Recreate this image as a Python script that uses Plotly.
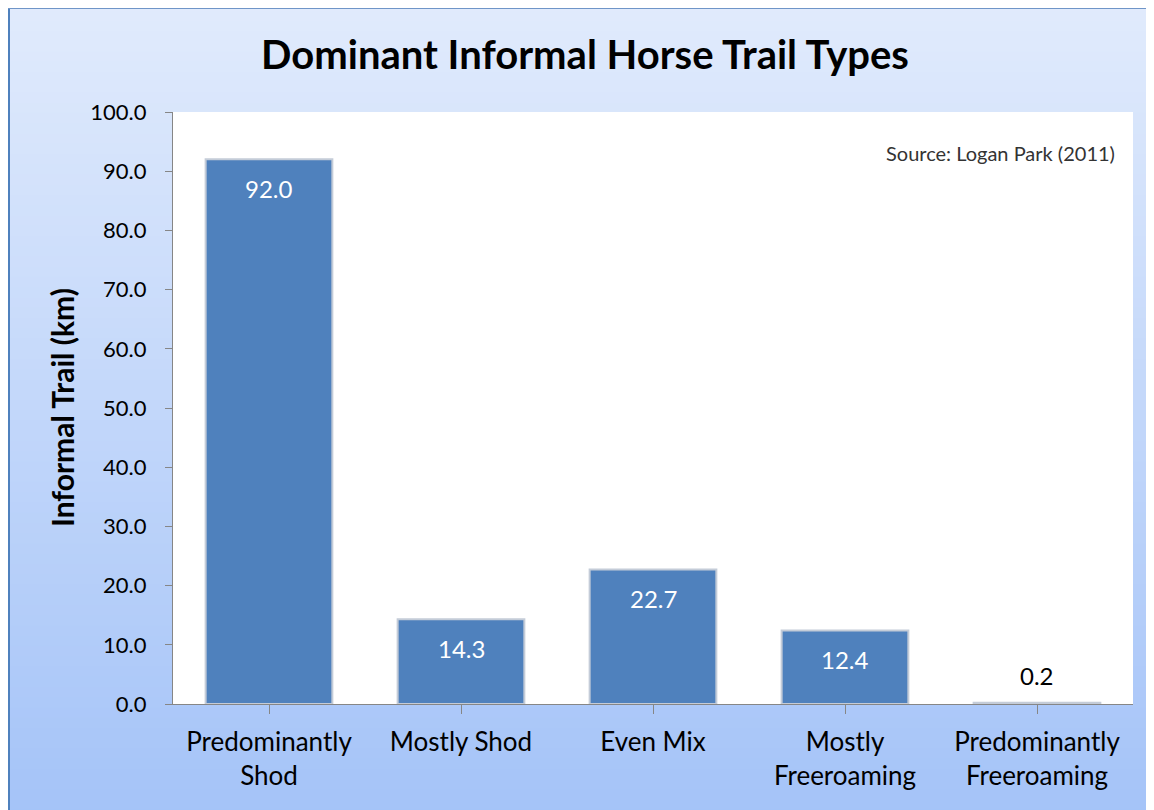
import plotly.graph_objects as go

categories = ["Predominantly<br>Shod", "Mostly Shod", "Even Mix", "Mostly<br>Freeroaming", "Predominantly<br>Freeroaming"]
values = [92.0, 14.3, 22.7, 12.4, 0.2]
y_ticks = [0, 10, 20, 30, 40, 50, 60, 70, 80, 90, 100]

W, H = 1146, 802
OFF = 8  # page body margin
L, T = 173 - OFF, 112 - OFF
PW, PH = 960, 592
R = W - L - PW
B = H - T - PH

def px2x(px):  # px in reference page coordinates
    return (px - OFF - L) / PW

def py2y(py):
    return (T + PH - (py - OFF)) / PH

FONT = "Lato"

fig = go.Figure()
fig.add_trace(go.Bar(
    x=list(range(len(categories))), y=values,
    marker=dict(color="#4F81BD", line=dict(color="#C4CCD8", width=2)),
    width=0.66, hoverinfo="skip",
))

shapes = []
top_c = (225, 235, 252)
bot_c = (164, 195, 248)
n = 80
ya, yb = 0, 810 + 10
for i in range(n):
    a = ya + (yb - ya) * i / n
    b = ya + (yb - ya) * (i + 1) / n + 1
    t = (i + 0.5) / n
    c = tuple(round(top_c[k] + (bot_c[k] - top_c[k]) * t) for k in range(3))
    shapes.append(dict(type="rect", xref="paper", yref="paper", layer="below",
                       x0=px2x(0), x1=px2x(1154 + 20), y0=py2y(b), y1=py2y(a),
                       fillcolor="rgb(%d,%d,%d)" % c, line=dict(width=0)))
shapes.append(dict(type="rect", xref="paper", yref="paper", layer="below",
                   x0=0, x1=1, y0=0, y1=1, fillcolor="white", line=dict(width=0)))
shapes.append(dict(type="line", xref="paper", yref="paper", layer="above",
                   x0=px2x(9), x1=px2x(9), y0=py2y(8), y1=py2y(830),
                   line=dict(color="#4F81BD", width=2)))
shapes.append(dict(type="line", xref="paper", yref="paper", layer="above",
                   x0=px2x(8), x1=px2x(1174), y0=py2y(8.5), y1=py2y(8.5),
                   line=dict(color="#6F95C8", width=1)))

annotations = []
for i, v in enumerate(values):
    inside = v > 5
    annotations.append(dict(
        x=i, y=v, xref="x", yref="y", text="%.1f" % v, showarrow=False,
        yshift=-29 if inside else 27,
        font=dict(family=FONT, size=24, color="white" if inside else "black"),
    ))
annotations.append(dict(
    x=px2x(1117), y=py2y(153), xref="paper", yref="paper", xanchor="right",
    yanchor="middle", text="Source: Logan Park (2011)", showarrow=False,
    font=dict(family=FONT, size=20, color="#333333"),
))
annotations.append(dict(
    x=px2x(62), y=py2y(408), xref="paper", yref="paper", textangle=-90,
    xanchor="center", yanchor="middle", text="<b>Informal Trail (km)</b>",
    showarrow=False, font=dict(family=FONT, size=30, color="black"),
))

fig.update_layout(
    width=W, height=H,
    margin=dict(l=L, r=R, t=T, b=B),
    paper_bgcolor="rgb(200,215,250)",
    plot_bgcolor="rgba(0,0,0,0)",
    showlegend=False,
    title=dict(text="<b>Dominant Informal Horse Trail Types</b>",
               x=(585 - OFF) / W, xanchor="center",
               y=1 - (55 - OFF) / H, yanchor="middle",
               font=dict(family=FONT, size=40, color="black")),
    xaxis=dict(
        tickmode="array", tickvals=list(range(len(categories))), ticktext=categories,
        range=[-0.5, len(categories) - 0.5],
        showline=True, linecolor="#868686", linewidth=1.3,
        ticks="outside", ticklen=9, tickcolor="#868686", tickwidth=1.3,
        tickson="boundaries", showgrid=False, zeroline=False,
        ticklabelstandoff=6,
        tickfont=dict(family=FONT, size=26, color="black"),
    ),
    yaxis=dict(
        range=[0, 100], tickvals=y_ticks, tickformat=".1f",
        showline=True, linecolor="#868686", linewidth=1.3,
        ticks="outside", ticklen=7, tickcolor="#868686", tickwidth=1.3,
        showgrid=False, zeroline=False,
        ticklabelstandoff=14,
        tickfont=dict(family=FONT, size=22, color="black"),
    ),
    shapes=shapes,
    annotations=annotations,
)

fig.write_html(
    "out.html",
    config={"displayModeBar": False},
    post_script="document.documentElement.style.overflow='hidden';document.body.style.overflow='hidden';",
)
